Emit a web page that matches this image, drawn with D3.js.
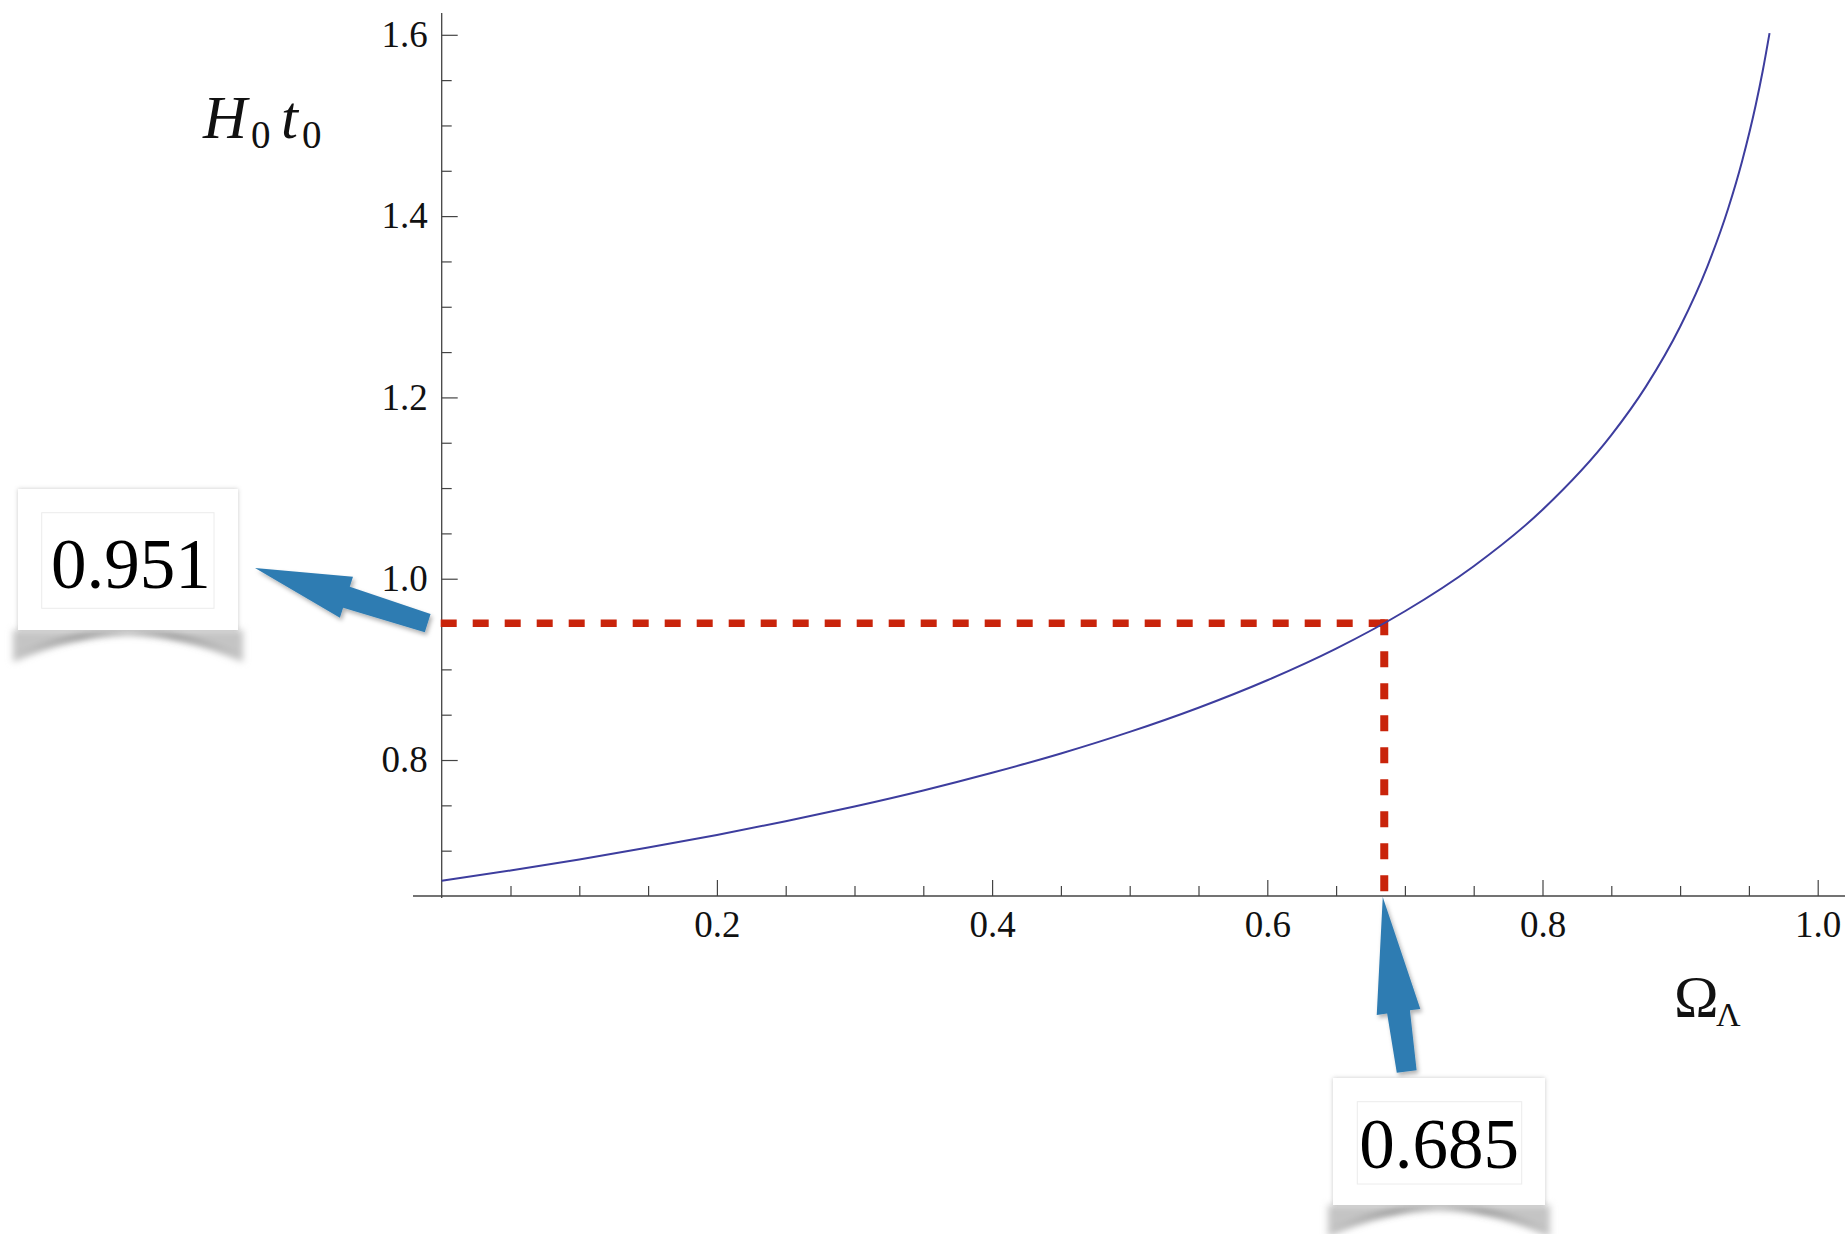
<!DOCTYPE html>
<html>
<head>
<meta charset="utf-8">
<script src="https://cdn.jsdelivr.net/npm/d3@7"></script>
<style>
  body { margin: 0; background: #fff; }
  svg { display: block; }
</style>
</head>
<body>
<svg id="chart"></svg>
<script>
const width = 1845;
const height = 1234;

// curve: H0 t0 against Omega_Lambda
const omegaLambda = [0, 0.05, 0.1, 0.15, 0.2, 0.25, 0.3, 0.35, 0.4, 0.45, 0.5, 0.55, 0.6,
  0.65, 0.7, 0.75, 0.8, 0.85, 0.875, 0.9, 0.92, 0.935, 0.945, 0.955, 0.96, 0.965];
const hubbleAge = [0.6667, 0.6781, 0.6903, 0.7034, 0.7174, 0.7324, 0.7487, 0.7664, 0.7859,
  0.8072, 0.831, 0.8577, 0.888, 0.9229, 0.9641, 1.0138, 1.076, 1.1583, 1.2116, 1.2779,
  1.3452, 1.4087, 1.4603, 1.5228, 1.5598, 1.6019];

// highlighted point
const markX = 0.685;
const markY = 0.951;
const markLabels = ["0.951", "0.685"];

const xTicks = [0.2, 0.4, 0.6, 0.8, 1.0];
const yTicks = [0.8, 1.0, 1.2, 1.4, 1.6];

const x = d3.scaleLinear().domain([0, 1]).range([441.7, 1817.7]);
const y = d3.scaleLinear().domain([0.65, 1.6]).range([896, 34.8]);

const svg = d3.select("#chart").attr("width", width).attr("height", height)
  .attr("viewBox", [0, 0, width, height]);

const defs = svg.append("defs");
defs.append("filter").attr("id", "blur").attr("x", "-20%").attr("y", "-60%")
  .attr("width", "140%").attr("height", "220%")
  .append("feGaussianBlur").attr("stdDeviation", 3.5);
defs.append("filter").attr("id", "soft").attr("x", "-10%").attr("y", "-10%")
  .attr("width", "120%").attr("height", "120%")
  .append("feDropShadow").attr("dx", 0).attr("dy", 0).attr("stdDeviation", 2)
  .attr("flood-color", "#888").attr("flood-opacity", 0.45);
defs.append("filter").attr("id", "arrowShadow").attr("x", "-20%").attr("y", "-20%")
  .attr("width", "140%").attr("height", "140%")
  .append("feDropShadow").attr("dx", 2).attr("dy", 3).attr("stdDeviation", 2)
  .attr("flood-color", "#000").attr("flood-opacity", 0.3);
const grad = defs.append("linearGradient").attr("id", "arcGrad");
[[0, "#c4c4c4"], [0.3, "#555"], [0.5, "#999"], [0.7, "#555"], [1, "#c4c4c4"]]
  .forEach(([o, c]) => grad.append("stop").attr("offset", o).attr("stop-color", c));

// axes
const axisColor = "#444";
const x0 = y(0.65);
svg.append("line").attr("x1", 413).attr("x2", width).attr("y1", x0).attr("y2", x0)
  .attr("stroke", axisColor).attr("stroke-width", 1.3);
svg.append("line").attr("x1", x(0)).attr("x2", x(0)).attr("y1", 13).attr("y2", x0 + 2)
  .attr("stroke", axisColor).attr("stroke-width", 1.3);

const xMinor = d3.range(0.05, 1.0, 0.05).filter(v => !xTicks.some(t => Math.abs(t - v) < 1e-6));
const yMinor = d3.range(0.7, 1.6, 0.05).filter(v => !yTicks.some(t => Math.abs(t - v) < 1e-6));

const serif = "'Liberation Serif', 'Times New Roman', serif";

svg.append("g").attr("transform", `translate(0,${x0})`)
  .call(d3.axisBottom(x).tickValues(xTicks).tickSizeInner(-16).tickSizeOuter(0)
    .tickPadding(15).tickFormat(d3.format(".1f")));
svg.append("g").attr("transform", `translate(0,${x0})`)
  .call(d3.axisBottom(x).tickValues(xMinor).tickSizeInner(-10).tickSizeOuter(0).tickFormat(""));

svg.append("g").attr("transform", `translate(${x(0)},0)`)
  .call(d3.axisLeft(y).tickValues(yTicks).tickSizeInner(-16).tickSizeOuter(0)
    .tickPadding(14).tickFormat(d3.format(".1f")));
svg.append("g").attr("transform", `translate(${x(0)},0)`)
  .call(d3.axisLeft(y).tickValues(yMinor).tickSizeInner(-10).tickSizeOuter(0).tickFormat(""));

svg.selectAll(".domain").remove();
svg.selectAll(".tick line").attr("stroke", axisColor).attr("stroke-width", 1.2);
svg.selectAll(".tick text").attr("font-family", serif).attr("font-size", 37)
  .attr("fill", "#111");

// axis labels
const lab = svg.append("g").attr("font-family", serif).attr("fill", "#111");
lab.append("text").attr("x", 203).attr("y", 138).attr("font-size", 61)
  .attr("font-style", "italic").text("H");
lab.append("text").attr("x", 251).attr("y", 148).attr("font-size", 39).text("0");
lab.append("text").attr("x", 281).attr("y", 138).attr("font-size", 61)
  .attr("font-style", "italic").text("t");
lab.append("text").attr("x", 302).attr("y", 148).attr("font-size", 39).text("0");
lab.append("text").attr("x", 1674).attr("y", 1017).attr("font-size", 60).text("Ω");
lab.append("text").attr("x", 1716).attr("y", 1026).attr("font-size", 34).text("Λ");

// red dashed guides
const red = "#c9240b";
svg.append("line").attr("x1", x(0) - 1).attr("x2", x(markX) + 4)
  .attr("y1", y(markY)).attr("y2", y(markY))
  .attr("stroke", red).attr("stroke-width", 7.5).attr("stroke-dasharray", "16,16");
svg.append("line").attr("x1", x(markX)).attr("x2", x(markX))
  .attr("y1", y(markY) - 4).attr("y2", x0)
  .attr("stroke", red).attr("stroke-width", 8).attr("stroke-dasharray", "16,16");

// the curve
const line = d3.line().x((d, i) => x(omegaLambda[i])).y(d => y(d)).curve(d3.curveMonotoneX);
svg.append("path").datum(hubbleAge).attr("d", line)
  .attr("fill", "none").attr("stroke", "#3d3d9e").attr("stroke-width", 2);

// blue arrows
function arrowPath(tail, tip, shaftW, headW, headL) {
  const dx = tip[0] - tail[0], dy = tip[1] - tail[1];
  const len = Math.hypot(dx, dy);
  const ux = dx / len, uy = dy / len, nx = -uy, ny = ux;
  const bx = tip[0] - ux * headL, by = tip[1] - uy * headL;
  const p = (cx, cy, s) => [cx + nx * s, cy + ny * s];
  const pts = [
    p(tail[0], tail[1], shaftW / 2), p(bx, by, shaftW / 2 + 1.5), p(bx, by, headW / 2),
    tip, p(bx, by, -headW / 2), p(bx, by, -shaftW / 2 - 1.5), p(tail[0], tail[1], -shaftW / 2)
  ];
  return "M" + pts.map(d => d.join(",")).join("L") + "Z";
}
const blue = "#2f7cb2";
const arrows = [
  { tail: [x(0) - 14, y(markY)], tip: [255, 568], shaftW: 19, headW: 43, headL: 96 },
  { tail: [1406.7, 1071.5], tip: [x(markX) - 1.5, x0 + 1], shaftW: 20, headW: 44, headL: 116 }
];
svg.append("g").attr("filter", "url(#arrowShadow)").selectAll("path").data(arrows).join("path")
  .attr("d", d => arrowPath(d.tail, d.tip, d.shaftW, d.headW, d.headL))
  .attr("fill", blue);

// callout boxes
const boxes = [
  { x: 18, y: 489, w: 220, h: 141, inner: [41.7, 512.7, 172.3, 95.6], tx: 130.8, ty: 588, label: markLabels[0] },
  { x: 1333, y: 1078, w: 212, h: 127, inner: [1357.3, 1101.7, 164.4, 82.3], tx: 1439, ty: 1168, label: markLabels[1] }
];
boxes.forEach(b => {
  const g = svg.append("g");
  const bot = b.y + b.h;
  const sh = g.append("g").attr("filter", "url(#blur)");
  sh.append("path")
    .attr("d", `M${b.x - 5},${bot} L${b.x - 5},${bot + 30} Q${b.x + b.w / 2},${bot - 25} ${b.x + b.w + 5},${bot + 30} L${b.x + b.w + 5},${bot} Z`)
    .attr("fill", "#c4c4c4");
  sh.append("path")
    .attr("d", `M${b.x - 5},${bot + 30} Q${b.x + b.w / 2},${bot - 25} ${b.x + b.w + 5},${bot + 30}`)
    .attr("fill", "none").attr("stroke", "url(#arcGrad)").attr("stroke-width", 4);
  g.append("rect").attr("x", b.x).attr("y", b.y).attr("width", b.w).attr("height", b.h)
    .attr("fill", "#fff").attr("filter", "url(#soft)");
  g.append("rect").attr("x", b.inner[0]).attr("y", b.inner[1])
    .attr("width", b.inner[2]).attr("height", b.inner[3])
    .attr("fill", "#fff").attr("stroke", "#ececec").attr("stroke-width", 1);
  g.append("text").attr("x", b.tx).attr("y", b.ty).attr("text-anchor", "middle")
    .attr("font-family", serif).attr("font-size", 71).attr("fill", "#000")
    .text(b.label);
});
</script>
</body>
</html>
